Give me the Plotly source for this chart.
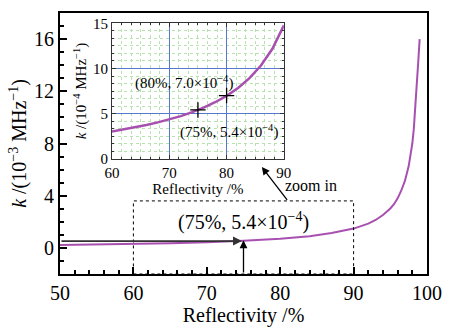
import plotly.graph_objects as go

# Main curve: reflectivity (%) vs k (1e-3 MHz^-1)
R_main = [50, 55, 60, 65, 70, 75, 80, 84, 87, 90, 92, 93, 94, 95, 95.5, 96, 96.5,
          97, 97.5, 97.8, 98, 98.2, 98.4, 98.6, 98.8, 99.0]
k_main = [0.22, 0.26, 0.30, 0.36, 0.44, 0.54, 0.70, 0.89, 1.14, 1.48, 1.86, 2.14, 2.52,
          3.02, 3.35, 3.80, 4.40, 5.15, 6.25, 7.2, 8.0, 9.1, 10.6, 12.3, 14.2, 16.0]

# Inset curve: reflectivity (%) vs k (1e-4 MHz^-1)
R_inset = [60, 62, 64, 66, 68, 70, 72, 74, 75, 76, 78, 80, 82, 84, 86, 88, 90]
k_inset = [3.02, 3.23, 3.46, 3.73, 4.02, 4.35, 4.72, 5.16, 5.40, 5.66, 6.26, 6.97,
           7.84, 8.93, 10.33, 12.19, 14.79]

# Marked points
R_marks = [75, 80]
k_marks = [5.4, 7.0]

FONT = "Liberation Serif"
PURPLE = "#a850b0"
BLUE = "#5577cc"
GREEN = "#b5e2ad"
TICK = "black"

fig = go.Figure()
fig.add_trace(go.Scatter(x=R_main, y=k_main, mode="lines",
                         line=dict(color=PURPLE, width=2), xaxis="x", yaxis="y",
                         showlegend=False))
fig.add_trace(go.Scatter(x=R_inset, y=k_inset, mode="lines",
                         line=dict(color=PURPLE, width=2.5), xaxis="x2", yaxis="y2",
                         showlegend=False))
fig.add_trace(go.Scatter(x=R_marks, y=k_marks, mode="markers",
                         marker=dict(symbol="cross-thin", size=11,
                                     line=dict(color="black", width=1.3)),
                         xaxis="x2", yaxis="y2", showlegend=False))

fig.update_layout(
    width=458, height=329,
    margin=dict(l=60, r=31, t=5, b=55),
    paper_bgcolor="white", plot_bgcolor="rgba(0,0,0,0)",
    font=dict(family=FONT, color="black", size=20),
    xaxis=dict(range=[50, 100], tick0=50, dtick=10, ticks="inside", ticklen=7,
               tickwidth=2, tickcolor=TICK, showline=True, mirror=True,
               linewidth=2, linecolor="black", showgrid=False, zeroline=False,
               tickfont=dict(size=20, family=FONT),
               minor=dict(dtick=2, tick0=50, ticks="inside", ticklen=4,
                          tickwidth=2, tickcolor=TICK),
               title=dict(text="Reflectivity /%", font=dict(size=20, family=FONT),
                          standoff=4)),
    yaxis=dict(range=[-2, 18], tick0=0, dtick=4, ticks="inside", ticklen=7,
               tickwidth=2, tickcolor=TICK, showline=True, mirror=True,
               linewidth=2, linecolor="black", showgrid=False, zeroline=False,
               tickfont=dict(size=20, family=FONT),
               minor=dict(dtick=1, tick0=0, ticks="inside", ticklen=4,
                          tickwidth=2, tickcolor=TICK),
               title=dict(text="<i>k</i> /(10<sup>−3</sup> MHz<sup>−1</sup>)",
                          font=dict(size=20, family=FONT), standoff=2)),
    xaxis2=dict(domain=[0.1417, 0.610], anchor="y2", range=[60, 90],
                tick0=60, dtick=10, ticks="inside", ticklen=4, tickwidth=1,
                tickcolor="#333", showline=True, mirror="allticks", linewidth=1,
                linecolor="#333", showgrid=True, gridcolor=BLUE, gridwidth=1,
                zeroline=False, tickfont=dict(size=15, family=FONT),
                minor=dict(dtick=10 / 6, tick0=60, ticks="inside", ticklen=2,
                           tickcolor="#333", showgrid=True, gridcolor=GREEN,
                           griddash="dot", gridwidth=1),
                title=dict(text="Reflectivity /%", font=dict(size=15, family=FONT),
                           standoff=0)),
    yaxis2=dict(domain=[0.442, 0.960], anchor="x2", range=[0, 15],
                tick0=0, dtick=5, ticks="inside", ticklen=4, tickwidth=1,
                tickcolor="#333", showline=True, mirror="allticks", linewidth=1,
                linecolor="#333", showgrid=True, gridcolor=BLUE, gridwidth=1,
                zeroline=False, tickfont=dict(size=15, family=FONT),
                minor=dict(dtick=5 / 6, tick0=0, ticks="inside", ticklen=2,
                           tickcolor="#333", showgrid=True, gridcolor=GREEN,
                           griddash="dot", gridwidth=1),
                title=dict(text="<i>k</i> /(10<sup>−4</sup> MHz<sup>−1</sup>)",
                           font=dict(size=15, family=FONT), standoff=2)),
)

# Dotted zoom region
fig.add_shape(type="rect", xref="x", yref="y", x0=60, x1=90, y0=-2, y1=3.6,
              line=dict(color="black", width=1, dash="dot"))

annots = [
    dict(text="(75%, 5.4×10<sup>−4</sup>)", x=75, y=2.0, xref="x", yref="y",
         showarrow=False, font=dict(size=20, family=FONT)),
    dict(text="zoom in", x=84.2, y=4.8, xref="x", yref="y",
         showarrow=False, font=dict(size=16, family=FONT)),
    dict(text="(80%, 7.0×10<sup>−4</sup>)", x=72.6, y=8.5, xref="x2", yref="y2",
         showarrow=False, font=dict(size=15, family=FONT)),
    dict(text="(75%, 5.4×10<sup>−4</sup>)", x=80.4, y=3.0, xref="x2", yref="y2",
         showarrow=False, font=dict(size=15, family=FONT)),
    dict(text="", x=77.5, y=6.2, xref="x", yref="y", ax=81.1, ay=3.56,
         axref="x", ayref="y", showarrow=True, arrowhead=2, arrowsize=1.2,
         arrowwidth=1.3, arrowcolor="black"),
    dict(text="", x=74.8, y=0.52, xref="x", yref="y", ax=50, ay=0.52,
         axref="x", ayref="y", showarrow=True, arrowhead=2, arrowsize=1,
         arrowwidth=1.8, arrowcolor="#333"),
    dict(text="", x=75, y=0.58, xref="x", yref="y", ax=75, ay=-2,
         axref="x", ayref="y", showarrow=True, arrowhead=2, arrowsize=1.2,
         arrowwidth=1.3, arrowcolor="black"),
]
fig.update_layout(annotations=annots)

fig.write_html("out.html")
